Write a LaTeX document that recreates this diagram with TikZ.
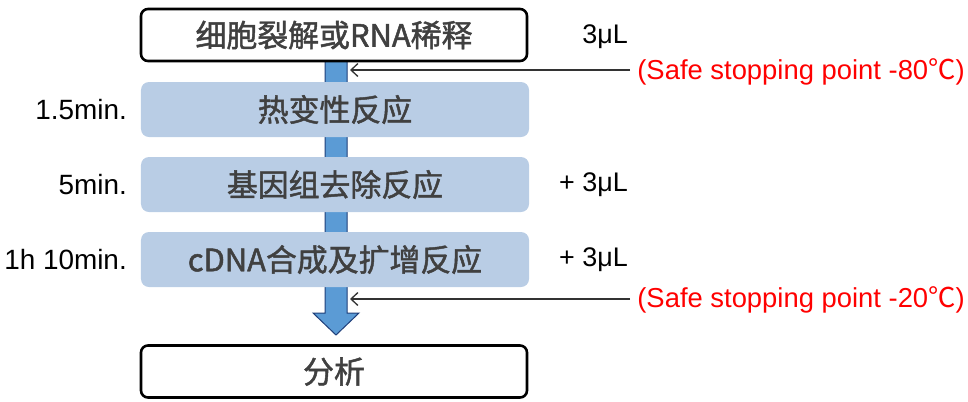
\documentclass[tikz,border=0pt]{standalone}
\usepackage{fontspec}
\setmainfont{Liberation Sans}
\newfontfamily\cjk[FakeBold=1.5]{Noto Sans CJK SC}
\newfontfamily\cjkplain{Noto Sans CJK SC}
\usetikzlibrary{arrows.meta}
\definecolor{lightbox}{HTML}{B9CDE5}
\definecolor{shaftblue}{HTML}{5B9BD5}
\definecolor{shaftedge}{HTML}{1F3F7A}
\definecolor{boxtext}{HTML}{404040}
\tikzset{
  whitebox/.style={draw=black, line width=2.6bp, rounded corners=7bp, fill=white,
    minimum width=386bp, minimum height=52bp, inner sep=0pt,
    font=\cjk\fontsize{31}{34}\selectfont, text=boxtext},
  stepbox/.style={fill=lightbox, rounded corners=8bp,
    minimum width=388bp, minimum height=55bp, inner sep=0pt,
    font=\cjk\fontsize{31}{34}\selectfont, text=boxtext},
  timelabel/.style={anchor=east, inner sep=0pt, font=\fontsize{28}{30}\selectfont},
  vollabel/.style={anchor=east, inner sep=0pt, font=\fontsize{27}{30}\selectfont},
  redlabel/.style={anchor=east, inner sep=0pt, text=red, font=\fontsize{27.5}{30}\selectfont},
  pointer/.style={draw=black!80, line width=1.3bp, -{Straight Barb[length=7bp,width=13bp,line width=1.3bp]}}
}
\begin{document}
\begin{tikzpicture}[x=1bp,y=-1bp]
\useasboundingbox (0,0) rectangle (968,401);
% blue flow arrow
\draw[fill=shaftblue, draw=shaftedge, line width=1bp]
  (325,60) -- (325,313) -- (313,313) -- (336,335) -- (359,313) -- (347,313) -- (347,60) -- cycle;
% boxes
\node[whitebox] (lysis) at (334,35) {细胞裂解或RNA稀释};
\node[stepbox] (heat) at (335,109.5) {热变性反应};
\node[stepbox] (gdna) at (335,184.5) {基因组去除反应};
\node[stepbox] (cdna) at (335,259.5) {cDNA合成及扩增反应};
\node[whitebox] (anal) at (334,371.5) {分析};
% times
\node[timelabel] (t1) at (127,110) {1.5min.};
\node[timelabel] (t2) at (127,185) {5min.};
\node[timelabel] (t3) at (127,260) {1h 10min.};
% volumes
\node[vollabel] (v1) at (628,37) {3μL};
\node[vollabel] (v2) at (628,185) {+ 3μL};
\node[vollabel] (v3) at (628,260) {+ 3μL};
% stopping points
\node[redlabel] (r1) at (965,72) {(Safe stopping point -80{\cjkplain ℃})};
\node[redlabel] (r2) at (965,300) {(Safe stopping point -20{\cjkplain ℃})};
\coordinate (p1) at (350,70);
\coordinate (p2) at (350,299);
\path (r1.west |- p1) ++(-7,0) coordinate (q1);
\draw[pointer] (q1) -- (p1);
\path (r2.west |- p2) ++(-7,0) coordinate (q2);
\draw[pointer] (q2) -- (p2);
\end{tikzpicture}
\end{document}
